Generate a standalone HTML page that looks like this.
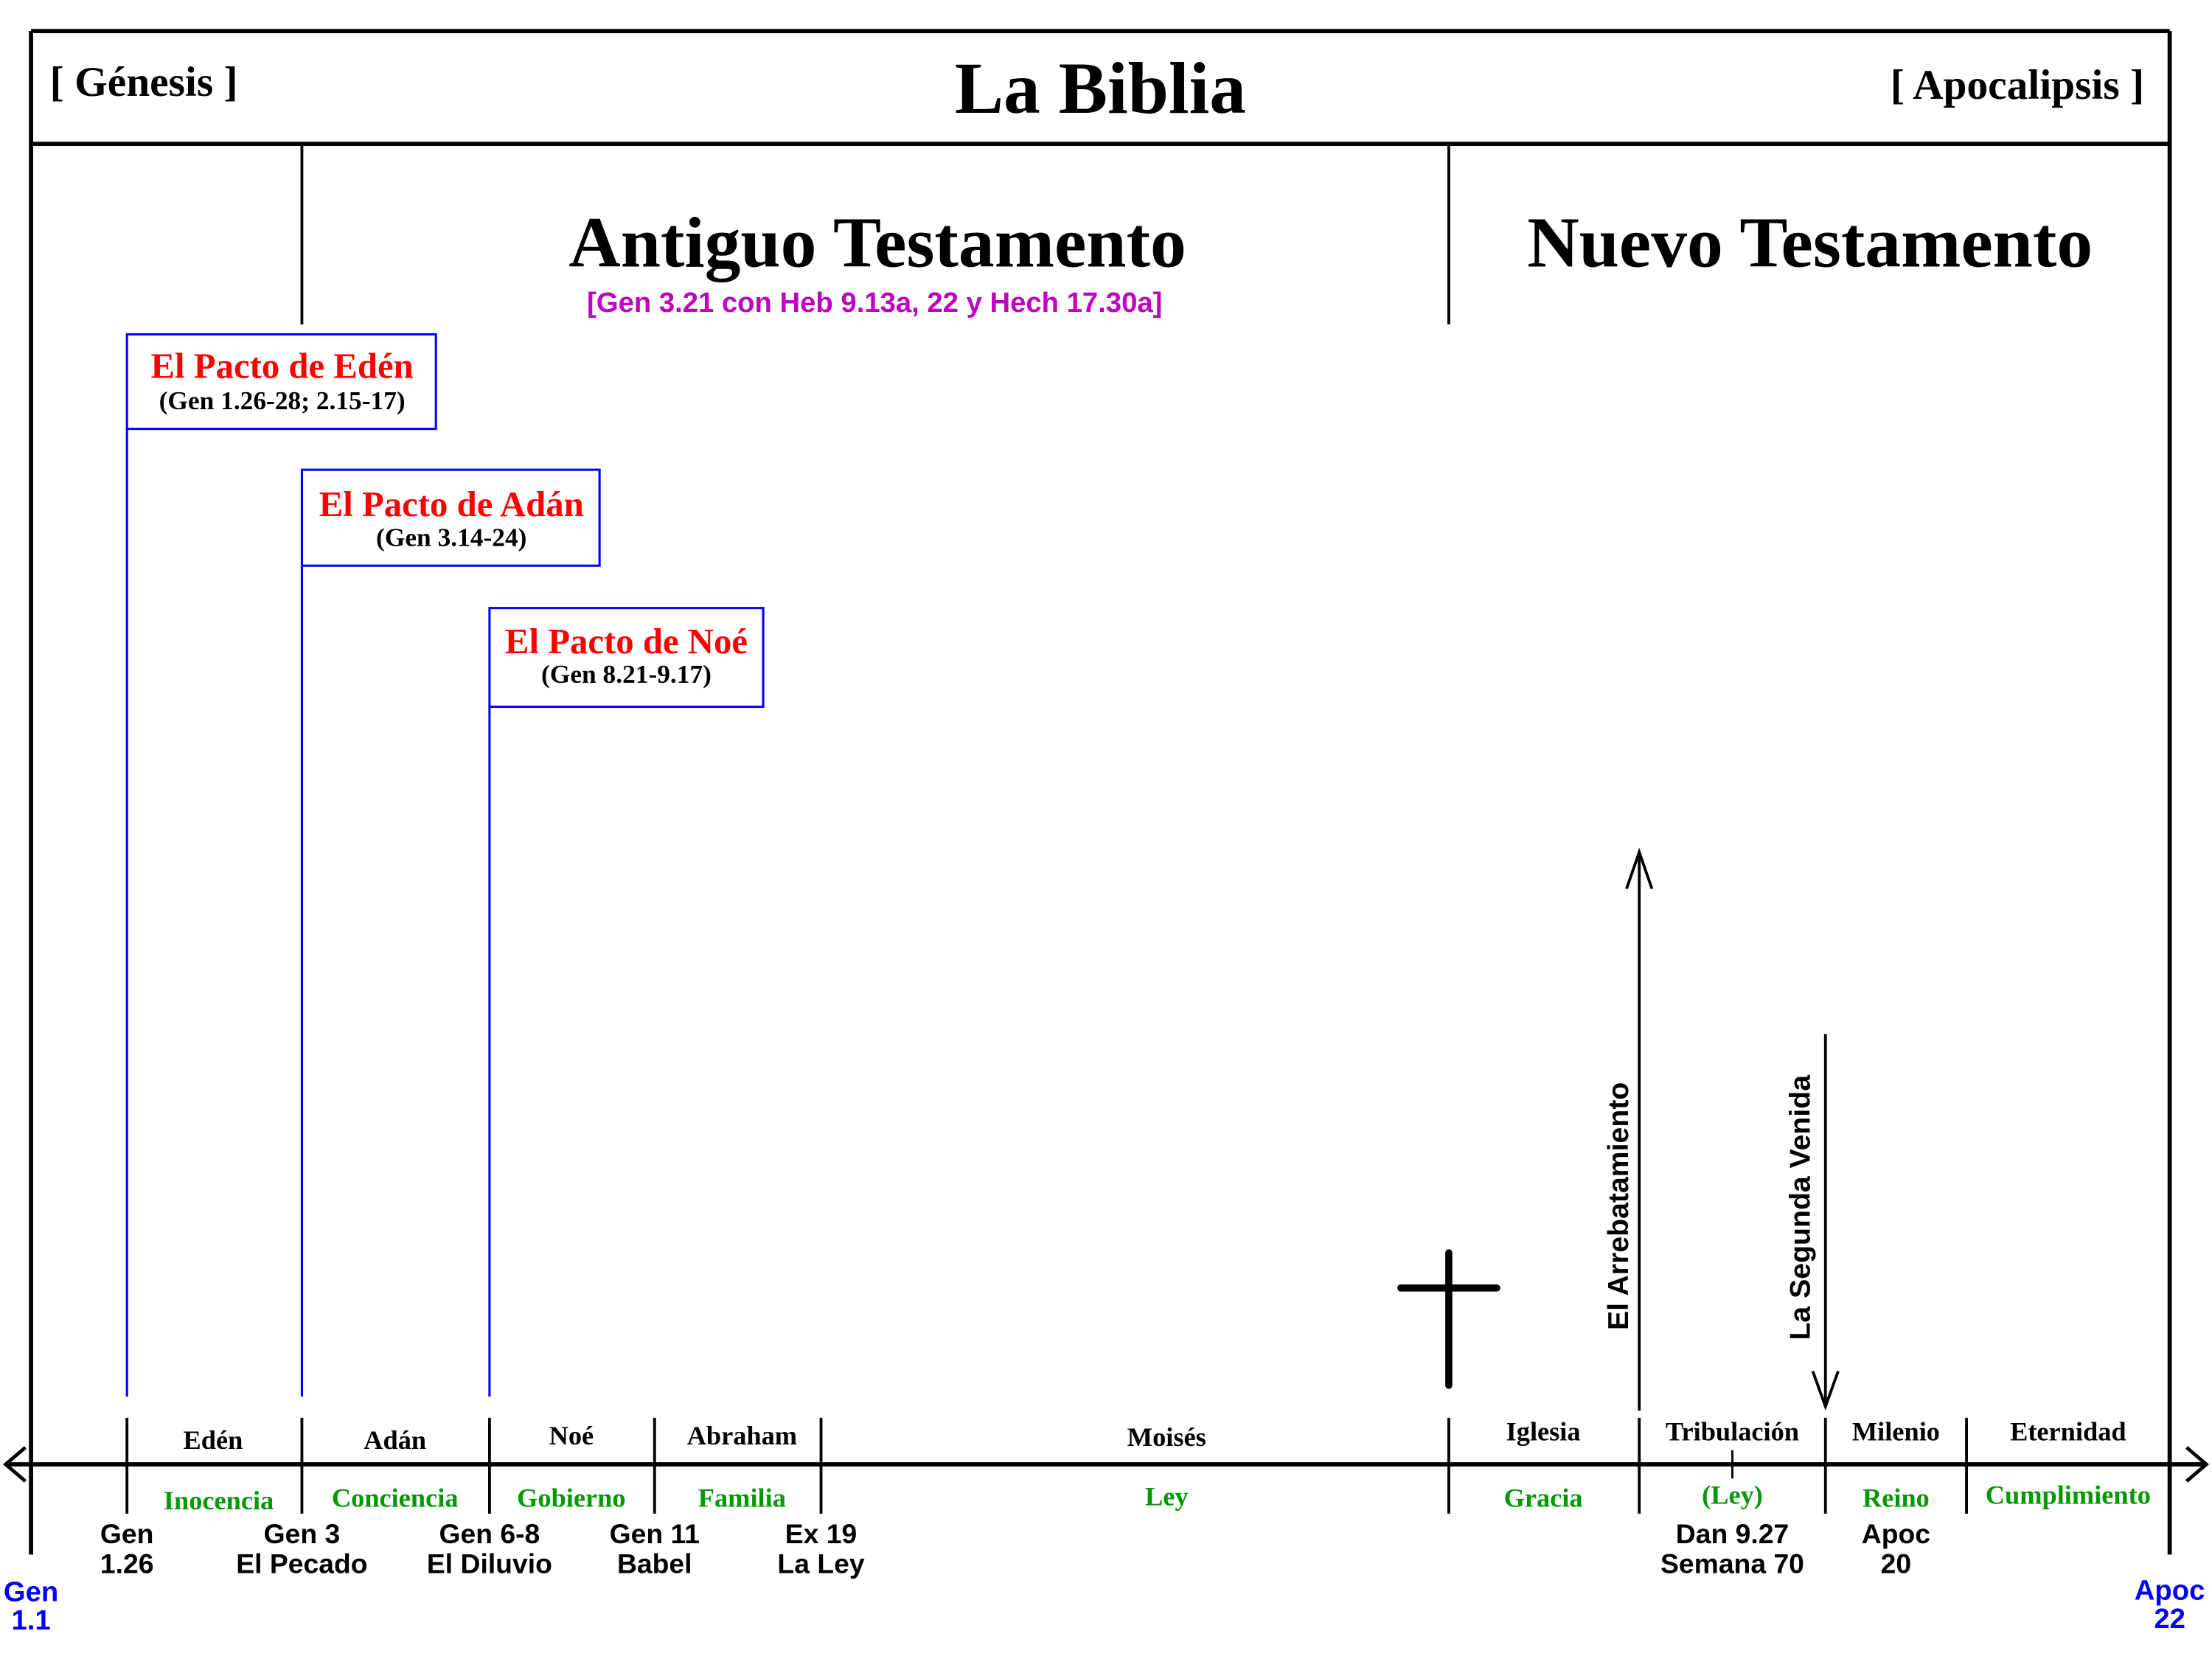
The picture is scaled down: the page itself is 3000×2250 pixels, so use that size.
<!DOCTYPE html>
<html><head><meta charset="utf-8"><style>html,body{margin:0;padding:0;background:#fff}svg{display:block}</style></head>
<body>
<svg width="3000" height="2250" viewBox="0 0 1568 1176" xmlns="http://www.w3.org/2000/svg">
<g stroke="#000" stroke-width="3" fill="none">
<line x1="22" y1="22" x2="1538" y2="22"/>
<line x1="22" y1="102" x2="1538" y2="102"/>
<line x1="22" y1="22" x2="22" y2="1102"/>
<line x1="1538" y1="22" x2="1538" y2="1102"/>
<line x1="214" y1="102" x2="214" y2="230" stroke-width="2"/>
<line x1="1027" y1="102" x2="1027" y2="230" stroke-width="2"/>
<line x1="4" y1="1038" x2="1564" y2="1038"/>
<polyline points="18,1026 4,1038 18,1050" stroke-width="2.5"/>
<polyline points="1550,1026 1564,1038 1550,1050" stroke-width="2.5"/>
<g stroke-width="2">
<line x1="90" y1="1005" x2="90" y2="1073"/>
<line x1="214" y1="1005" x2="214" y2="1073"/>
<line x1="347" y1="1005" x2="347" y2="1073"/>
<line x1="464" y1="1005" x2="464" y2="1073"/>
<line x1="582" y1="1005" x2="582" y2="1073"/>
<line x1="1027" y1="1005" x2="1027" y2="1073"/>
<line x1="1162" y1="1005" x2="1162" y2="1073"/>
<line x1="1294" y1="1005" x2="1294" y2="1073"/>
<line x1="1394" y1="1005" x2="1394" y2="1073"/>
<line x1="1228" y1="1028" x2="1228" y2="1048" stroke-width="1.5"/>
<line x1="1162" y1="1000" x2="1162" y2="604"/>
<polyline points="1153,630 1162,604 1171,630"/>
<line x1="1294" y1="733" x2="1294" y2="997"/>
<polyline points="1285,972 1294,997 1303,972"/>
</g>
<g stroke-width="5" stroke-linecap="round">
<line x1="1027" y1="888" x2="1027" y2="982"/>
<line x1="993" y1="913" x2="1061" y2="913"/>
</g>
<g stroke="#00f" stroke-width="1.6">
<rect x="90" y="237" width="219" height="67"/>
<rect x="214" y="333" width="211" height="68"/>
<rect x="347" y="431" width="194" height="70"/>
<line x1="90" y1="304" x2="90" y2="990"/>
<line x1="214" y1="401" x2="214" y2="990"/>
<line x1="347" y1="501" x2="347" y2="990"/>
</g>
</g>
<g font-family="Liberation Serif, serif" font-weight="bold" text-anchor="middle">
<text x="780" y="80" font-size="52">La Biblia</text>
<text x="102" y="68" font-size="30">[ Génesis ]</text>
<text x="1430" y="70" font-size="30">[ Apocalipsis ]</text>
<text x="622" y="189" font-size="51">Antiguo Testamento</text>
<text x="1283" y="189" font-size="51">Nuevo Testamento</text>
<text x="200" y="268" font-size="25.5" fill="#f00">El Pacto de Edén</text>
<text x="200" y="290" font-size="18.5">(Gen 1.26-28; 2.15-17)</text>
<text x="320" y="366" font-size="25.5" fill="#f00">El Pacto de Adán</text>
<text x="320" y="387" font-size="18.5">(Gen 3.14-24)</text>
<text x="444" y="463" font-size="25.5" fill="#f00">El Pacto de Noé</text>
<text x="444" y="484" font-size="18.5">(Gen 8.21-9.17)</text>
<g font-size="19">
<text x="151" y="1027">Edén</text>
<text x="280" y="1027">Adán</text>
<text x="405" y="1024">Noé</text>
<text x="526" y="1024">Abraham</text>
<text x="827" y="1025">Moisés</text>
<text x="1094" y="1021">Iglesia</text>
<text x="1228" y="1021">Tribulación</text>
<text x="1344" y="1021">Milenio</text>
<text x="1466" y="1021">Eternidad</text>
</g>
<g font-size="19" fill="#090">
<text x="155" y="1070">Inocencia</text>
<text x="280" y="1068">Conciencia</text>
<text x="405" y="1068">Gobierno</text>
<text x="526" y="1068">Familia</text>
<text x="827" y="1067">Ley</text>
<text x="1094" y="1068">Gracia</text>
<text x="1228" y="1066">(Ley)</text>
<text x="1344" y="1068">Reino</text>
<text x="1466" y="1066">Cumplimiento</text>
</g>
</g>
<g font-family="Liberation Sans, sans-serif" font-weight="bold" text-anchor="middle">
<text x="620" y="221" font-size="20" fill="#c000c0">[Gen 3.21 con Heb 9.13a, 22 y Hech 17.30a]</text>
<g font-size="19.5">
<text x="90" y="1094">Gen</text><text x="90" y="1115">1.26</text>
<text x="214" y="1094">Gen 3</text><text x="214" y="1115">El Pecado</text>
<text x="347" y="1094">Gen 6-8</text><text x="347" y="1115">El Diluvio</text>
<text x="464" y="1094">Gen 11</text><text x="464" y="1115">Babel</text>
<text x="582" y="1094">Ex 19</text><text x="582" y="1115">La Ley</text>
<text x="1228" y="1094">Dan 9.27</text><text x="1228" y="1115">Semana 70</text>
<text x="1344" y="1094">Apoc</text><text x="1344" y="1115">20</text>
</g>
<g font-size="20" fill="#00f">
<text x="22" y="1135">Gen</text><text x="22" y="1155">1.1</text>
<text x="1538" y="1134">Apoc</text><text x="1538" y="1154">22</text>
</g>
<text transform="translate(1154,855) rotate(-90)" font-size="20.5">El Arrebatamiento</text>
<text transform="translate(1283,856) rotate(-90)" font-size="20.5">La Segunda Venida</text>
</g>
</svg>
</body></html>
